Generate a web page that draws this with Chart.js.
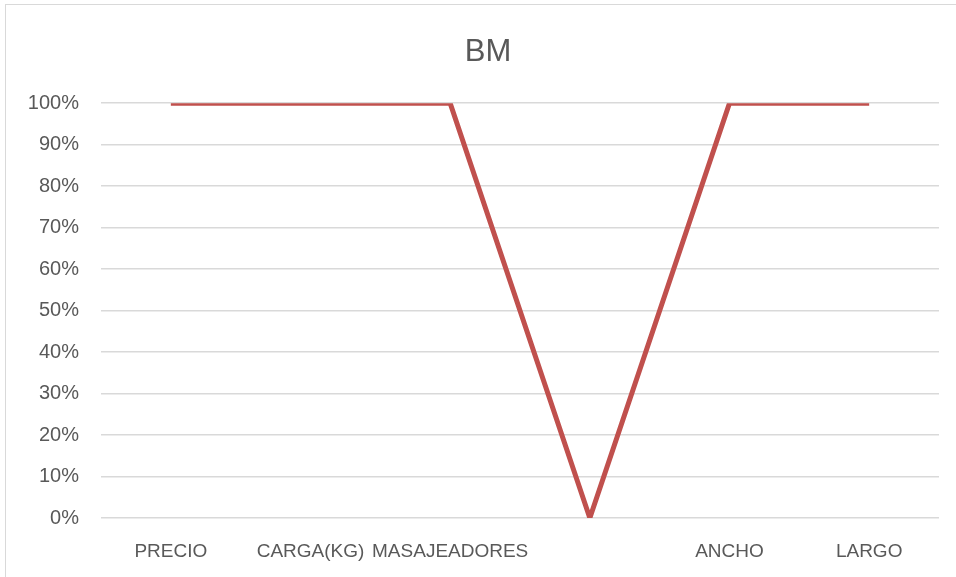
<!DOCTYPE html>
<html>
<head>
<meta charset="utf-8">
<script src="https://cdn.jsdelivr.net/npm/chart.js@4/dist/chart.umd.min.js"></script>
<style>
  html, body { margin: 0; padding: 0; background: #fff; }
  #wrap { position: relative; width: 956px; height: 577px; }
  #frame { position: absolute; left: 5px; top: 4px; width: 960px; height: 580px; border: 1px solid #d9d9d9; box-sizing: border-box; pointer-events: none; }
  canvas { position: absolute; left: 0; top: 0; }
</style>
</head>
<body>
<div id="wrap">
  <canvas id="bmChart" width="956" height="577"></canvas>
  <div id="frame"></div>
</div>
<script>
// BM chart
const categories = ['PRECIO', 'CARGA(KG)', 'MASAJEADORES', '', 'ANCHO', 'LARGO'];
const bmValues = [1, 1, 1, 0, 1, 1];
const yTicks = [0, 0.1, 0.2, 0.3, 0.4, 0.5, 0.6, 0.7, 0.8, 0.9, 1];

const textGray = '#595959';
const font = 'Liberation Sans, Arial, sans-serif';

const ctx = document.getElementById('bmChart');
new Chart(ctx, {
  type: 'line',
  data: {
    labels: categories,
    datasets: [
      { label: 'BM', data: bmValues, borderColor: '#c0504d', borderWidth: 5, pointRadius: 0, tension: 0, fill: false }
    ]
  },
  options: {
    responsive: false,
    animation: false,
    layout: { padding: { left: 20, right: 0, top: 34, bottom: 0 } },
    plugins: {
      legend: { display: false },
      tooltip: { enabled: false },
      title: {
        display: true,
        text: 'BM',
        color: textGray,
        font: { family: font, size: 31, weight: 'normal' },
        padding: { top: 0, bottom: 32 }
      }
    },
    scales: {
      x: {
        offset: true,
        grid: { display: false, drawTicks: false },
        border: { display: false },
        ticks: { color: textGray, font: { family: font, size: 19 }, padding: 22, maxRotation: 0, autoSkip: false },
        afterFit: (s) => { s.height = 59; }
      },
      y: {
        min: 0,
        max: 1,
        afterBuildTicks: (s) => { s.ticks = yTicks.map(v => ({ value: v })); },
        grid: { color: '#d9d9d9', lineWidth: 1.5, drawTicks: false },
        border: { display: false },
        ticks: {
          color: textGray,
          font: { family: font, size: 20 },
          padding: 22,
          callback: (v) => Math.round(v * 100) + '%'
        },
        afterFit: (s) => { s.width = 81; }
      },
      // empty right-hand spacer so the plot ends where the reference does
      yRight: {
        position: 'right',
        min: 0,
        max: 1,
        grid: { display: false, drawTicks: false },
        border: { display: false },
        ticks: { display: false },
        afterFit: (s) => { s.width = 17; }
      }
    }
  }
});
</script>
</body>
</html>
